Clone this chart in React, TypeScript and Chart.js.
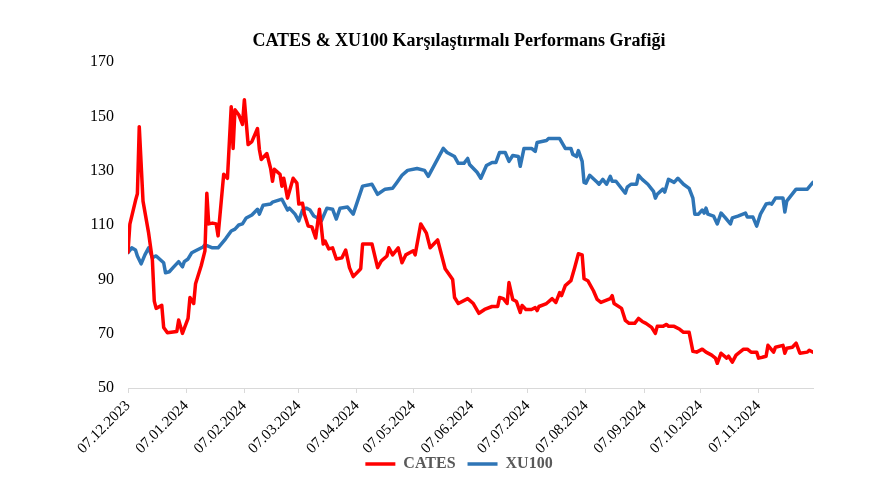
import React, { useEffect, useRef } from 'react';
import { Chart, registerables } from 'chart.js';

Chart.register(...registerables);

const titleText = 'CATES & XU100 Karşılaştırmalı Performans Grafiği';
const seriesNames = ['CATES', 'XU100'];
const startLabel = '07.12.2023';
const tickLabels = [
  '07.12.2023', '07.01.2024', '07.02.2024', '07.03.2024', '07.04.2024', '07.05.2024',
  '07.06.2024', '07.07.2024', '07.08.2024', '07.09.2024', '07.10.2024', '07.11.2024',
];
const lastDay = 365;
const yTicks = [50, 70, 90, 110, 130, 150, 170];

// days since 07.12.2023
const catesDays = [
  0, 1, 4, 5, 6, 8, 11, 13, 14, 15, 18, 19, 21, 26, 27, 29, 32, 33, 35, 36, 39, 41, 42, 43, 45, 47, 48,
  51, 53, 55, 56, 57, 59, 61, 62, 64, 66, 69, 70, 71, 74, 76, 77, 78, 81, 82, 83, 85, 88, 90, 91, 93,
  94, 96, 98, 100, 102, 104, 105, 107, 109, 111, 114, 116, 118, 120, 124, 125, 130, 133, 135, 138,
  139, 141, 144, 146, 148, 152, 153, 156, 159, 161, 165, 169, 173, 174, 176, 181, 184, 187, 190, 194,
  197, 198, 200, 202, 203, 205, 207, 209, 210, 212, 215, 217, 218, 219, 223, 226, 228, 230, 231, 233,
  236, 238, 240, 242, 243, 245, 248, 250, 252, 257, 258, 259, 263, 265, 267, 270, 272, 274, 276, 279,
  281, 282, 285, 287, 288, 291, 294, 296, 299, 301, 303, 306, 308, 311, 313, 314, 316, 319, 320, 322,
  324, 328, 330, 332, 335, 336, 338, 340, 341, 344, 345, 349, 350, 351, 354, 356, 358, 362, 363, 365,
];
const catesValues = [
  100, 110.3, 119, 121.5, 146.2, 118.8, 107, 97, 82, 79.3, 80.4, 72.3, 70.3, 70.8, 75, 70.1, 75.6, 83.3,
  81.1, 88.4, 95, 100.5, 121.7, 110.4, 110.7, 110.4, 106,
  128.7, 127.2, 153.5, 138.2, 152.4, 150.6, 147, 156.1, 139.6, 140.7, 145.5, 137.8, 134.1, 136.3, 130.8,
  126.1, 130.5, 128.7, 124.3, 127.2, 119.9, 127.2, 125.4, 117.7, 118,
  114, 109.6, 109.3, 105.2, 115.8, 103, 104.1, 101.2, 101.6, 97.5, 97.9, 100.8, 94.3, 91, 93.9, 103,
  103, 94.3, 96.8, 98.6,
  101.6, 99, 101.6, 96.1, 99, 100.5, 99, 110.4, 107, 101.6, 104.5, 93.9, 89.9, 83.3, 81.1, 82.9, 81.1,
  77.5, 78.9, 80,
  80, 83.3, 82.9, 81.1, 88.8, 82.6, 81.8, 77.8, 80.4, 78.9, 78.9, 79.6, 78.5, 80, 81.1, 82.9, 81.5,
  85.1, 84, 87.7,
  89.5, 94.3, 99.4, 99, 90.2, 89.5, 85.8, 82.6, 81.5, 82.9, 84, 81.1, 79.3, 74.9, 73.8, 73.8, 75.6,
  74.5, 73.8, 72.3,
  70.1, 72.7, 72.7, 73.4, 72.7, 72.7, 71.6, 70.5, 70.5, 63.5, 63.2, 64.3, 63.2, 62.1, 61, 59.1, 62.8,
  61, 61.7, 59.5,
  62.1, 64.3, 64.3, 63.2, 63.2, 61, 61.3, 61.7, 65.7, 63.2, 65, 65.7, 62.8, 64.6, 65, 66.5, 62.8, 63.2,
  63.9, 63.2,
];

const xu100Days = [
  0, 2, 4, 5, 7, 9, 11, 13, 15, 19, 20, 22, 24, 27, 29, 30, 32, 34, 36, 40, 41, 45, 48, 52, 55, 57, 59,
  61, 63, 66, 69, 70, 72, 76, 77, 82, 85, 86, 89, 91, 93, 95, 97, 99, 101, 103, 106, 109, 111, 113, 117,
  120, 125, 130, 133, 137, 141, 143, 146, 149, 154, 158, 160, 162, 168, 170, 174, 176, 179, 181, 182,
  186, 188, 191, 194, 196, 198, 201, 203, 205, 208, 209, 211, 215, 217, 218, 223, 224, 230, 233, 236,
  237, 239, 240, 242, 243, 244, 246, 250, 251, 253, 255, 257, 258, 260, 265, 266, 268, 271, 272, 274,
  277, 280, 281, 282, 285, 286, 288, 291, 293, 296, 299, 301, 302, 304, 306, 307, 308, 309, 312, 314,
  316, 318, 321, 322, 325, 329, 330, 333, 335, 337, 340, 342, 343, 345, 349, 350, 351, 356, 362, 365,
];
const xu100Values = [
  99.8, 101.6, 100.8, 98.6, 95.7, 99, 101.6, 98, 98.6, 96.1, 92.4, 92.8, 94.3, 96.5, 94.6, 96.5, 97.5,
  99.8, 100.5, 101.9, 102.7, 101.6, 101.6, 104.9, 107.8, 108.5, 110,
  110.4, 112.6, 113.7, 115.8, 114, 117.3, 117.7, 118.4, 119.5, 115.5, 116.2, 114, 111.5, 115.5, 116.2,
  115.5, 113.3, 112.6, 111.5, 116.2, 115.8, 112.2, 116.2, 116.6,
  114, 124.3, 125, 121.3, 123.2, 123.5, 125.4, 128.3, 130.1, 130.8, 130.1, 127.9, 130.5, 138.2, 136.7,
  135.2, 132.7, 132.7, 134.5, 132.3,
  129.4, 127.2, 131.9, 133, 133, 136.7, 136.7, 133.4, 135.6, 135.2, 131.6, 138.2, 138.2, 137.1, 140.4,
  141.1, 141.8, 141.8, 138.2, 138.2,
  136, 135.2, 137.4, 133.4, 125.7, 125.4, 128.3, 125.7, 125, 126.8, 125, 127.9, 126.1, 126.1, 121.7,
  123.9, 125, 125, 128.3, 126.8,
  125, 122.4, 119.9, 121.3, 123.2, 122.1, 126.8, 125.7, 127.2, 125, 123.5, 119.9, 114, 114, 115.5,
  114.4, 116.2, 114, 113.3, 110.4,
  114.4, 112.9, 110.4, 112.6, 113.3, 114.4, 112.9, 112.9, 109.6, 114, 117.7, 118, 117.7, 119.9, 119.9,
  114.8, 118.8, 123.2, 123.2, 125.7,
];

const seriesColors = ['#FF0000', '#2E75B6'];

function dayOf(label: string): number {
  const [d, m, y] = label.split('.').map(Number);
  const [d0, m0, y0] = startLabel.split('.').map(Number);
  return Math.round((Date.UTC(y, m - 1, d) - Date.UTC(y0, m0 - 1, d0)) / 86400000);
}

const tickDays = tickLabels.map(dayOf);

export default function App() {
  const ref = useRef<HTMLCanvasElement | null>(null);

  useEffect(() => {
    document.body.style.margin = '0';
    const canvas = ref.current;
    if (!canvas) return;
    const serif = "'Liberation Serif', 'Times New Roman', serif";
    const chart = new Chart(canvas, {
      type: 'line',
      data: {
        datasets: [
          {
            label: seriesNames[0],
            data: catesDays.map((d, i) => ({ x: d, y: catesValues[i] })),
            borderColor: seriesColors[0],
            backgroundColor: seriesColors[0],
            borderWidth: 3.5,
            pointRadius: 0,
            tension: 0,
            borderJoinStyle: 'round',
            borderCapStyle: 'round',
          },
          {
            label: seriesNames[1],
            data: xu100Days.map((d, i) => ({ x: d, y: xu100Values[i] })),
            borderColor: seriesColors[1],
            backgroundColor: seriesColors[1],
            borderWidth: 3.5,
            pointRadius: 0,
            tension: 0,
            borderJoinStyle: 'round',
            borderCapStyle: 'round',
          },
        ],
      },
      options: {
        responsive: false,
        animation: false,
        layout: { padding: { left: 84, right: 35, top: 0, bottom: 4 } },
        plugins: {
          title: {
            display: true,
            text: titleText,
            color: '#000',
            font: { family: serif, size: 18, weight: 'bold' },
            padding: { top: 31, bottom: 9.4 },
          },
          legend: {
            display: true,
            position: 'bottom',
            labels: {
              usePointStyle: true,
              pointStyle: 'line',
              pointStyleWidth: 30,
              color: '#595959',
              font: { family: serif, size: 16, weight: 'bold' },
              padding: 12,
            },
          },
          tooltip: { enabled: false },
        },
        scales: {
          x: {
            type: 'linear',
            min: 0,
            max: lastDay,
            afterBuildTicks: (scale: any) => {
              scale.ticks = tickDays.map((v) => ({ value: v }));
            },
            afterFit: (scale: any) => {
              scale.height = 56;
              // let the rotated labels spill past the axis box without clipping
              scale._computeLabelArea = () => undefined;
            },
            ticks: {
              autoSkip: false,
              maxRotation: 45,
              minRotation: 45,
              color: '#000',
              font: { family: serif, size: 15 },
              padding: 4,
              callback: (value: any) => {
                const idx = tickDays.indexOf(Number(value));
                return idx >= 0 ? tickLabels[idx] : '';
              },
            },
            grid: {
              display: true,
              drawOnChartArea: false,
              drawTicks: true,
              tickLength: 5,
              color: '#D9D9D9',
            },
            border: { display: true, color: '#D9D9D9', width: 1 },
          },
          y: {
            type: 'linear',
            position: 'left',
            min: 50,
            max: 170,
            afterBuildTicks: (scale: any) => {
              scale.ticks = yTicks.map((v) => ({ value: v }));
            },
            afterFit: (scale: any) => {
              scale.width = 44;
            },
            ticks: {
              color: '#000',
              font: { family: serif, size: 16 },
              padding: 14,
            },
            grid: { display: false, drawTicks: false },
            border: { display: false },
          },
          yRight: {
            type: 'linear',
            position: 'right',
            display: true,
            min: 50,
            max: 170,
            afterFit: (scale: any) => {
              scale.width = 21;
            },
            ticks: { display: false },
            grid: { display: false, drawTicks: false },
            border: { display: false },
          },
        },
      },
    } as any);
    return () => chart.destroy();
  }, []);

  return (
    <div style={{ width: 869, height: 486 }}>
      <canvas ref={ref} width={869} height={486} style={{ display: 'block' }} />
    </div>
  );
}
